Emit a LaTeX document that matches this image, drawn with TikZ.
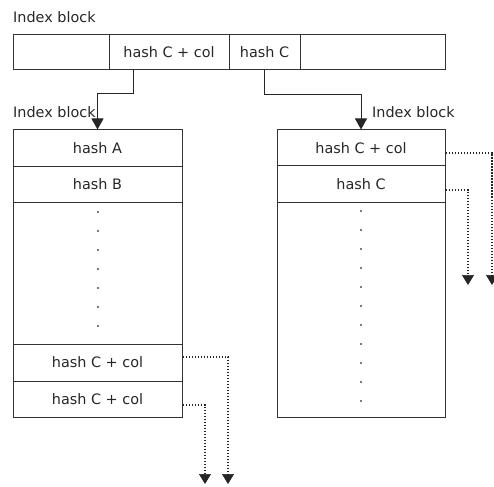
\documentclass[tikz,border=0pt]{standalone}
\usepackage{fontspec}
\setmainfont{DejaVu Sans}
\usetikzlibrary{arrows.meta,calc}
\begin{document}
\begin{tikzpicture}[x=1pt,y=-1pt,
  txt/.style={font=\fontsize{14.4}{17}\selectfont, text=black!85},
  cell/.style={txt, draw=black!80, line width=1pt, rectangle, inner sep=0pt},
  lbl/.style={txt, anchor=base west, inner sep=0pt},
  link/.style={draw=black!85, line width=1pt, -{Triangle[width=12pt,length=11pt]}},
  ptr/.style={draw=black!85, line width=1.3pt, dash pattern=on 1.6pt off 1.4pt, -{Triangle[width=12pt,length=10pt,line width=0.6pt]}},
  dot/.style={fill=black!70}]
\useasboundingbox (0,0) rectangle (494,486);

% top index block
\node[lbl] (t0) at (13,23) {Index block};
\node[cell, minimum width=96,  minimum height=35] (c1) at (61,52.5) {};
\node[cell, minimum width=120, minimum height=35] (c2) at (169,52.5) {hash C + col};
\node[cell, minimum width=71,  minimum height=35] (c3) at (264.5,52.5) {hash C};
\node[cell, minimum width=145, minimum height=35] (c4) at (372.5,52.5) {};

% left index block
\node[lbl] (tl) at (13,118) {Index block};
\node[cell, minimum width=169, minimum height=37]  (la)  at (97.5,148.5) {hash A};
\node[cell, minimum width=169, minimum height=35]  (lb)  at (97.5,184.5) {hash B};
\node[cell, minimum width=169, minimum height=142] (ld)  at (97.5,273) {};
\node[cell, minimum width=169, minimum height=37]  (lc1) at (97.5,362.5) {hash C + col};
\node[cell, minimum width=169, minimum height=36]  (lc2) at (97.5,399) {hash C + col};
\foreach \k in {0,...,6}
  \fill[dot] ($(98,212)+(0,19*\k)$) circle (1.2);

% right index block
\node[lbl] (tr) at (372,118) {Index block};
\node[cell, minimum width=168, minimum height=36]  (ra) at (361,148) {hash C + col};
\node[cell, minimum width=168, minimum height=36]  (rb) at (361,184) {hash C};
\node[cell, minimum width=168, minimum height=215] (rd) at (361,309.5) {};
\foreach \k in {0,...,10}
  \fill[dot] ($(361,211)+(0,19*\k)$) circle (1.2);

% links from the top block
\coordinate (s1) at (133,70);
\draw[link] (s1) -- ++(0,24) -| (la.north);
\draw[link] (c3.south) -- ++(0,24) -| (ra.north);

% dangling pointers
\coordinate (e1) at (228,484);
\coordinate (e2) at (205,484);
\coordinate (e3) at (492,285);
\coordinate (e4) at (468,285);
\draw[ptr] ($(lc1.east)+(0,-5.5)$) -| (e1);
\draw[ptr] ($(lc2.east)+(0,6)$) -| (e2);
\draw[ptr] ($(ra.east)+(0,5)$) -| (e3);
\draw[ptr] ($(rb.east)+(0,6)$) -| (e4);
\end{tikzpicture}
\end{document}
